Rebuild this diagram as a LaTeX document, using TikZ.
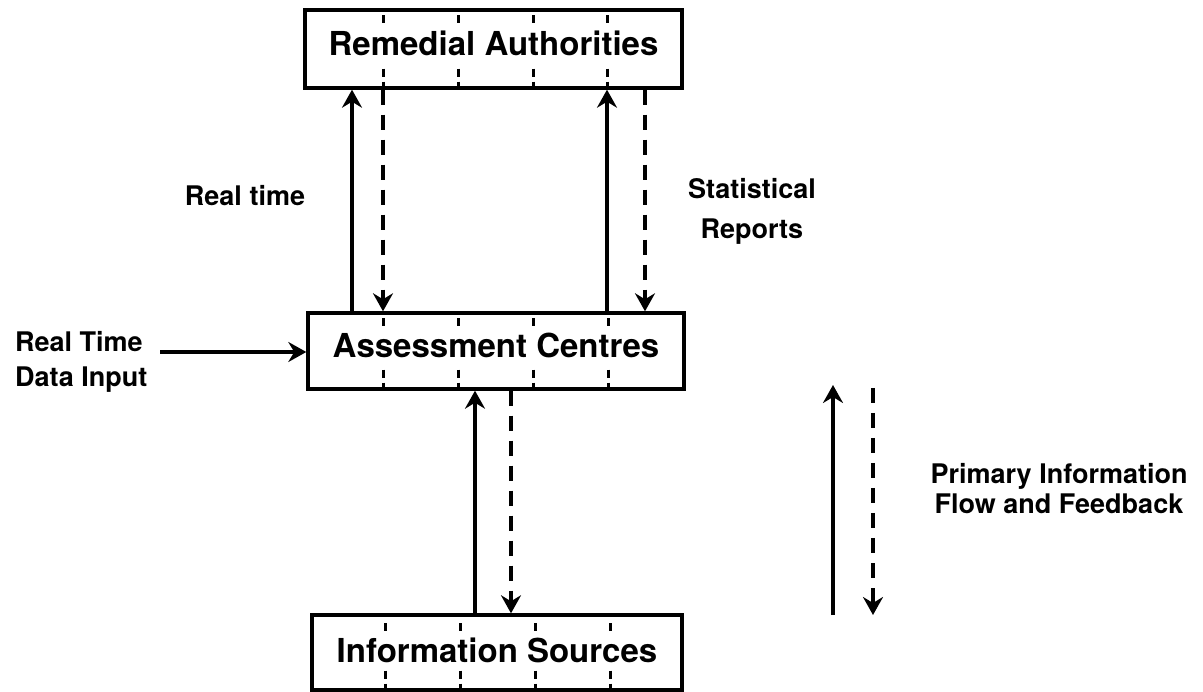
\documentclass[tikz,border=0pt]{standalone}
\usepackage{fontspec}
\setmainfont{TeX Gyre Heros}
\usetikzlibrary{arrows.meta}
\begin{document}
\begin{tikzpicture}[x=1pt,y=-1pt,
  box/.style={draw, line width=3.4pt, inner sep=0pt, font=\bfseries\fontsize{33}{36}\selectfont, text height=24pt},
  lbl/.style={font=\bfseries\fontsize{27}{30}\selectfont, inner sep=0pt},
  flow/.style={line width=3.4pt, -{Stealth[length=18pt,width=20pt,inset=6pt]}},
  fback/.style={flow, dash pattern=on 15pt off 10pt},
  divider/.style={line width=3pt},
]
\useasboundingbox (0,0) rectangle (1203,692);

% boxes
\node[box, minimum width=377pt, minimum height=78pt, text depth=10pt] (ra) at (493.5,49) {Remedial Authorities};
\node[box, minimum width=376pt, minimum height=76pt, text depth=10pt] (ac) at (496,351) {Assessment Centres};
\node[box, minimum width=370pt, minimum height=75pt, text depth=4pt] (is) at (497,652.5) {Information Sources};

% dividers
\foreach \b/\xs/\t in {ra/{383,458,533,607}/7, ac/{383,458,533,608}/7, is/{385,460,535,610}/10} {
  \foreach \x in \xs {
    \draw[divider] (\b.north -| \x,0) ++(0,\t) -- ++(0,8);
    \draw[divider] (\b.south -| \x,0) ++(0,-21) -- ++(0,8);
    \draw[divider] (\b.south -| \x,0) ++(0,-8) -- ++(0,8);
  }
}

% connectors
\draw[flow] (ac.north -| 352,0) -- (ra.south -| 352,0);
\draw[fback] (ra.south -| 383,0) -- (ac.north -| 383,0);
\draw[flow] (ac.north -| 607,0) -- (ra.south -| 607,0);
\draw[fback] (ra.south -| 645,0) -- (ac.north -| 645,0);
\draw[flow] (is.north -| 475,0) -- (ac.south -| 475,0);
\draw[fback] (ac.south -| 511,0) -- (is.north -| 511,0);

\coordinate (in) at (160,352);
\draw[flow] (in) -- (ac.west |- in);

% legend arrows
\coordinate (lu0) at (833,615);
\coordinate (lu1) at (833,385);
\draw[flow] (lu0) -- (lu1);
\coordinate (ld0) at (873,388);
\coordinate (ld1) at (873,615);
\draw[fback] (ld0) -- (ld1);

% labels
\node[lbl, anchor=base] (rt) at (245,206) {Real time};
\node[lbl, align=center] (sr) at (752,211) {Statistical\\[10pt]Reports};
\node[lbl, align=left, anchor=west] (rtdi) at (15,362) {Real Time\\[5pt]Data Input};
\node[lbl, align=center] (pif) at (1059,489) {Primary Information\\Flow and Feedback};
\end{tikzpicture}
\end{document}
